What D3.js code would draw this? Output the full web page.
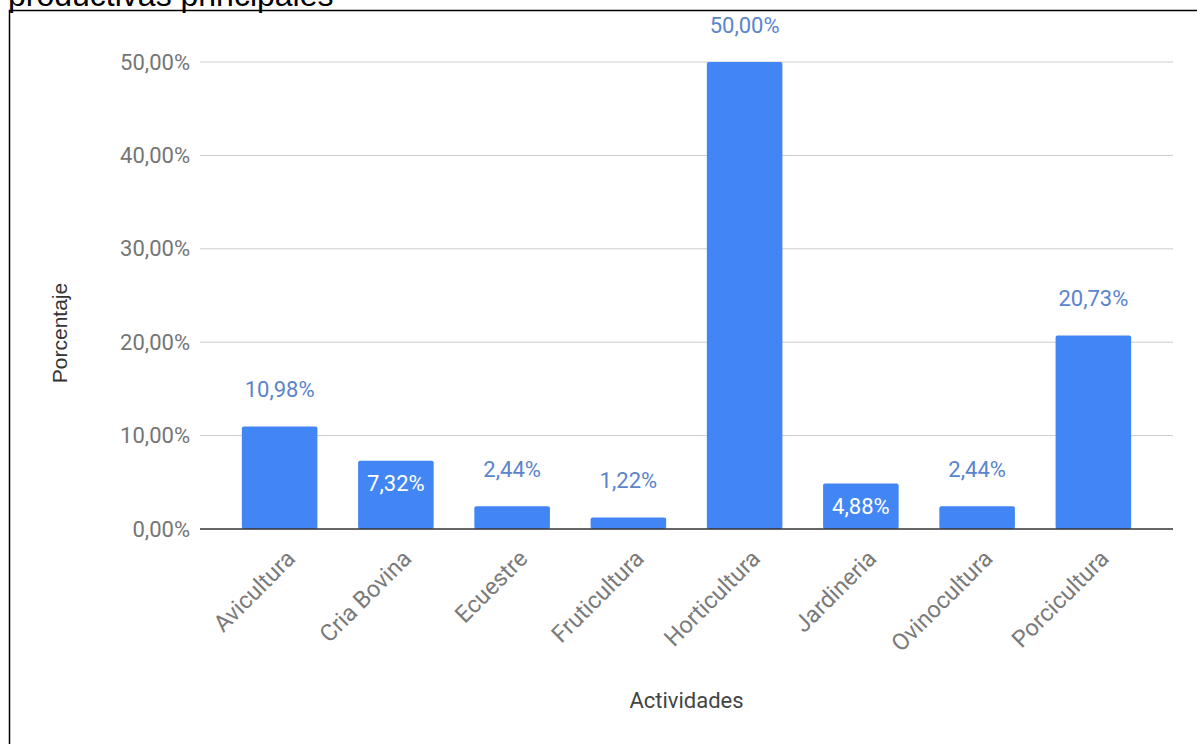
<!DOCTYPE html>
<html>
<head>
<meta charset="utf-8">
<script src="https://cdn.jsdelivr.net/npm/d3@7"></script>
<style>
  html, body { margin: 0; padding: 0; background: #fff; overflow: hidden; }
  #chart-container { width: 1197px; height: 744px; }
</style>
</head>
<body>
<div id="chart-container"></div>
<script>
// Data
const categories = ["Avicultura", "Cria Bovina", "Ecuestre", "Fruticultura", "Horticultura", "Jardineria", "Ovinocultura", "Porcicultura"];
const values = [10.98, 7.32, 2.44, 1.22, 50.00, 4.88, 2.44, 20.73];
const labelInside = [false, true, false, false, false, true, false, false];
const yTicks = [0, 10, 20, 30, 40, 50];

document.addEventListener("DOMContentLoaded", function () {
  var width = 1197;
  var height = 744;
  var margin = { top: 62, right: 24, bottom: 215, left: 200 };

  var svg = d3.select("#chart-container").append("svg")
    .attr("width", width)
    .attr("height", height);

  // title (cut off at the top, as in the source) and the frame around the chart
  svg.append("text")
    .attr("x", 8)
    .attr("y", 6)
    .style("font-family", "'Liberation Sans', Arial, sans-serif")
    .style("font-size", "32px")
    .attr("fill", "#000")
    .text("productivas principales");

  svg.append("rect")
    .attr("x", 9.5)
    .attr("y", 10.5)
    .attr("width", width + 20)
    .attr("height", height + 20)
    .attr("fill", "none")
    .attr("stroke", "#000")
    .attr("stroke-width", 1.5);

  var x = d3.scaleBand()
    .domain(categories)
    .range([margin.left, width - margin.right])
    .paddingInner(0.35)
    .paddingOuter(0.36);

  var y = d3.scaleLinear()
    .domain([0, 50])
    .range([height - margin.bottom, margin.top]);

  var fmt = function (v) { return d3.format(".2f")(v).replace(".", ",") + "%"; };

  // gridlines
  svg.selectAll(".grid-line")
    .data(yTicks.filter(function (d) { return d !== 0; }))
    .enter()
    .append("line")
    .attr("class", "grid-line")
    .attr("x1", margin.left)
    .attr("x2", width - margin.right)
    .attr("y1", function (d) { return y(d); })
    .attr("y2", function (d) { return y(d); })
    .attr("stroke", "#cccccc")
    .attr("stroke-width", 1);

  // y axis labels
  var yAxis = d3.axisLeft(y).tickValues(yTicks).tickFormat(fmt).tickSize(0).tickPadding(10);
  var yg = svg.append("g")
    .attr("transform", `translate(${margin.left},0)`)
    .call(yAxis);
  yg.select(".domain").remove();
  yg.selectAll("text")
    .style("font-family", "Roboto, sans-serif")
    .style("font-size", "22px")
    .attr("fill", "#757575");

  // bars
  svg.selectAll(".bar")
    .data(values)
    .enter()
    .append("rect")
    .attr("class", "bar")
    .attr("x", function (d, i) { return x(categories[i]); })
    .attr("y", function (d) { return y(d); })
    .attr("width", x.bandwidth())
    .attr("height", function (d) { return y(0) - y(d); })
    .attr("rx", 2)
    .attr("fill", "#4285f4");

  // baseline
  svg.append("line")
    .attr("x1", margin.left)
    .attr("x2", width - margin.right)
    .attr("y1", y(0))
    .attr("y2", y(0))
    .attr("stroke", "#333")
    .attr("stroke-width", 1.5);

  // value labels
  svg.selectAll(".value-label")
    .data(values)
    .enter()
    .append("text")
    .attr("class", "value-label")
    .attr("x", function (d, i) { return x(categories[i]) + x.bandwidth() / 2; })
    .attr("y", function (d, i) { return labelInside[i] ? y(d) + 23 : y(d) - 37; })
    .attr("dy", "0.35em")
    .attr("text-anchor", "middle")
    .style("font-family", "Roboto, sans-serif")
    .style("font-size", "22px")
    .attr("fill", function (d, i) { return labelInside[i] ? "#ffffff" : "#5a84cc"; })
    .text(fmt);

  // x axis labels (rotated)
  var xAxis = d3.axisBottom(x).tickSize(0).tickPadding(0);
  var xg = svg.append("g")
    .attr("transform", `translate(0,${y(0)})`)
    .call(xAxis);
  xg.select(".domain").remove();
  xg.selectAll("text")
    .attr("text-anchor", "end")
    .attr("dy", null)
    .attr("y", 0)
    .attr("transform", "translate(17,31) rotate(-45)")
    .style("font-family", "Roboto, sans-serif")
    .style("font-size", "23.5px")
    .attr("fill", "#7a7a7a");

  // axis titles
  svg.append("text")
    .attr("x", x.range()[0] + (x.range()[1] - x.range()[0]) / 2)
    .attr("y", 700)
    .attr("dy", "0.35em")
    .attr("text-anchor", "middle")
    .style("font-family", "Roboto, sans-serif")
    .style("font-size", "22px")
    .attr("fill", "#444")
    .text("Actividades");

  svg.append("text")
    .attr("transform", "translate(60,333) rotate(-90)")
    .attr("dy", "0.35em")
    .attr("text-anchor", "middle")
    .style("font-family", "'Liberation Sans', Arial, sans-serif")
    .style("font-size", "21px")
    .attr("fill", "#333")
    .text("Porcentaje");
});
</script>
</body>
</html>
